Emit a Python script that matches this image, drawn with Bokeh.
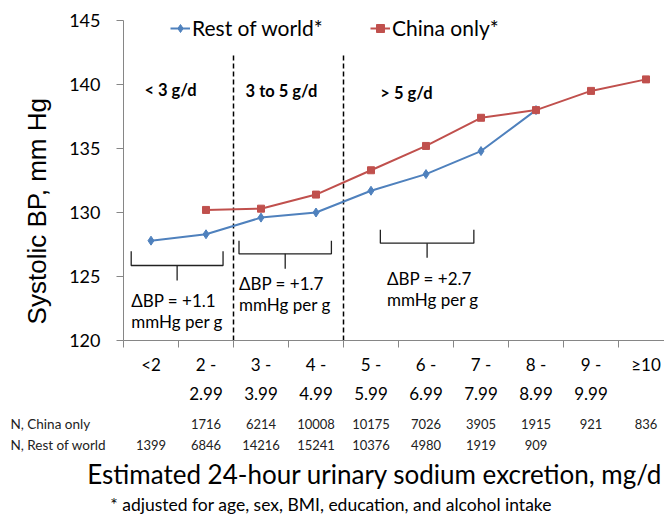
import math
from bokeh.plotting import figure
from bokeh.models import Range1d, LinearAxis, FixedTicker, Legend, LegendItem
from bokeh.core.properties import value
from bokeh.embed import file_html
from bokeh.resources import INLINE

# ---------------- data ----------------
categories = ["<2", "2 -\n2.99", "3 -\n3.99", "4 -\n4.99", "5 -\n5.99",
              "6 -\n6.99", "7 -\n7.99", "8 -\n8.99", "9 -\n9.99", "\u226510"]
rest_of_world = [127.8, 128.3, 129.6, 130.0, 131.7, 133.0, 134.8, 138.0, None, None]
china_only = [None, 130.2, 130.3, 131.4, 133.3, 135.2, 137.4, 138.0, 139.5, 140.4]
n_china = [None, 1716, 6214, 10008, 10175, 7026, 3905, 1915, 921, 836]
n_rest = [1399, 6846, 14216, 15241, 10376, 4980, 1919, 909, None, None]
y_ticks = [120, 125, 130, 135, 140, 145]
zone_labels = ["< 3 g/d", "3 to 5 g/d", "> 5 g/d"]
zone_boundaries = [2, 4]
slope_labels = ["\u0394BP = +1.1\nmmHg per g", "\u0394BP = +1.7\nmmHg per g", "\u0394BP = +2.7\nmmHg per g"]
row_labels = ["N, China only", "N, Rest of world"]
y_title = "Systolic BP, mm Hg"
x_title = "Estimated 24-hour urinary sodium excretion, mg/d"
footnote = "* adjusted for age, sex, BMI, education, and alcohol intake"

# ---------------- layout constants ----------------
W, H = 664, 514
PX_X, X0 = 55.0, 123.0        # px per category, px position of x=0
PX_Y, Y_TOP = 12.8, 20.0      # px per mmHg, px position of y=145
BLUE, RED = "#4F81BD", "#C0504D"
AXIS_GRAY = "#868686"
FONT_NAME = "Lato"
FONT = value(FONT_NAME)

# annotation geometry (x in category units, y in mmHg)
zone_pos = [(0.38, 139.55), (2.22, 139.5), (4.67, 139.35)]
brackets = [  # x_left, x_right, y_top, y_mid, y_bottom
    (0.14, 1.81, 126.98, 125.86, 124.69),
    (2.10, 3.78, 127.80, 126.77, 125.60),
    (4.67, 6.37, 128.65, 127.60, 126.46),
]
slope_pos = [(0.14, 122.3), (2.10, 123.6), (4.79, 124.0)]
row_label_x = -2.055
row_y = [113.5, 111.85]
y_title_pos = (-1.58, 130.1)
title_pos = (-0.66, 109.55)
foot_pos = (-0.24, 107.2)

xc = [i + 0.5 for i in range(len(categories))]

p = figure(width=W, height=H, output_backend="svg", toolbar_location=None,
           x_range=Range1d(-X0 / PX_X, (W - X0) / PX_X),
           y_range=Range1d(145 - (H - Y_TOP) / PX_Y, 145 + Y_TOP / PX_Y),
           x_axis_type=None, y_axis_type=None, min_border=0,
           outline_line_color=None, background_fill_color="white")

# y axis
yax = LinearAxis(fixed_location=0, bounds=(120, 145), ticker=FixedTicker(ticks=y_ticks),
                 axis_line_color=AXIS_GRAY, major_tick_line_color=AXIS_GRAY,
                 minor_tick_line_color=None, major_tick_out=7, major_tick_in=0,
                 major_label_standoff=16, major_label_text_font=FONT_NAME,
                 major_label_text_font_size="18px", major_label_text_color="black")
p.add_layout(yax, "left")

# x axis: category labels at centres (major), boundary ticks (minor)
xax = LinearAxis(fixed_location=120, bounds=(0, (W - X0) / PX_X),
                 ticker=FixedTicker(ticks=xc, minor_ticks=list(range(len(categories) + 1))),
                 major_label_overrides={x: c for x, c in zip(xc, categories)},
                 axis_line_color=AXIS_GRAY, major_tick_line_color=None,
                 minor_tick_line_color=AXIS_GRAY, minor_tick_out=7, minor_tick_in=0,
                 major_tick_out=0, major_tick_in=0, major_label_standoff=6,
                 major_label_text_font=FONT_NAME, major_label_text_font_size="17px",
                 major_label_text_color="black", major_label_text_line_height=1.4)
p.add_layout(xax, "below")

# y axis title
p.text(x=[y_title_pos[0]], y=[y_title_pos[1]], text=[y_title], angle=math.pi / 2,
       text_font=value("Liberation Sans"), text_font_size="26px",
       text_baseline="middle", text_align="center", text_color="black")

# zone dividers
p.segment(x0=zone_boundaries, x1=zone_boundaries, y0=[120] * len(zone_boundaries),
          y1=[142.4] * len(zone_boundaries), line_color="black", line_width=1.5,
          line_dash="5 3")

# series
rx = [x for x, v in zip(xc, rest_of_world) if v is not None]
ry = [v for v in rest_of_world if v is not None]
cx = [x for x, v in zip(xc, china_only) if v is not None]
cy = [v for v in china_only if v is not None]

b_line = p.line(rx, ry, line_color=BLUE, line_width=2)
b_pts = p.scatter(rx, ry, marker="diamond", size=9, color=BLUE)
r_line = p.line(cx, cy, line_color=RED, line_width=2)
r_pts = p.scatter(cx, cy, marker="square", size=7, color=RED)

legend_style = dict(border_line_color=None, background_fill_alpha=0, padding=0, margin=0,
                    glyph_width=20, glyph_height=20, label_height=20, label_standoff=2,
                    label_text_font=FONT_NAME, label_text_font_size="21px",
                    label_text_color="black")
leg1 = Legend(items=[LegendItem(label="Rest of world*", renderers=[b_line, b_pts])],
              location=(170, H - 40), **legend_style)
leg2 = Legend(items=[LegendItem(label="China only*", renderers=[r_line, r_pts])],
              location=(370, H - 40), **legend_style)
p.add_layout(leg1)
p.add_layout(leg2)

# zone labels
p.text(x=[z[0] for z in zone_pos], y=[z[1] for z in zone_pos], text=zone_labels,
       text_font=FONT, text_font_size="16.5px", text_font_style="bold",
       text_baseline="middle", text_align="left", text_color="black")

# brackets
bxs, bys = [], []
for xl, xr, yt, ym, yb in brackets:
    bxs.append([xl, xl, xr, xr])
    bys.append([yt, ym, ym, yt])
    bxs.append([(xl + xr) / 2, (xl + xr) / 2])
    bys.append([ym, yb])
p.multi_line(bxs, bys, line_color="#222222", line_width=1.3)

p.text(x=[s[0] for s in slope_pos], y=[s[1] for s in slope_pos], text=slope_labels,
       text_font=FONT, text_font_size="17px", text_baseline="middle",
       text_align="left", text_color="black", text_line_height=1.0)

# N table
p.text(x=[row_label_x] * 2, y=row_y, text=row_labels, text_font=FONT,
       text_font_size="13.5px", text_baseline="middle", text_align="left",
       text_color="#222222")
for row, yy in zip([n_china, n_rest], row_y):
    xs = [x for x, v in zip(xc, row) if v is not None]
    ts = [str(v) for v in row if v is not None]
    p.text(x=xs, y=[yy] * len(xs), text=ts, text_font=FONT, text_font_size="13px",
           text_baseline="middle", text_align="center", text_color="#222222")

# axis title and footnote
p.text(x=[title_pos[0]], y=[title_pos[1]], text=[x_title], text_font=FONT,
       text_font_size="26px", text_baseline="middle", text_align="left",
       text_color="black")
p.text(x=[foot_pos[0]], y=[foot_pos[1]], text=[footnote], text_font=FONT,
       text_font_size="17.5px", text_baseline="middle", text_align="left",
       text_color="black")

open("out.html", "w").write(file_html(p, INLINE))
